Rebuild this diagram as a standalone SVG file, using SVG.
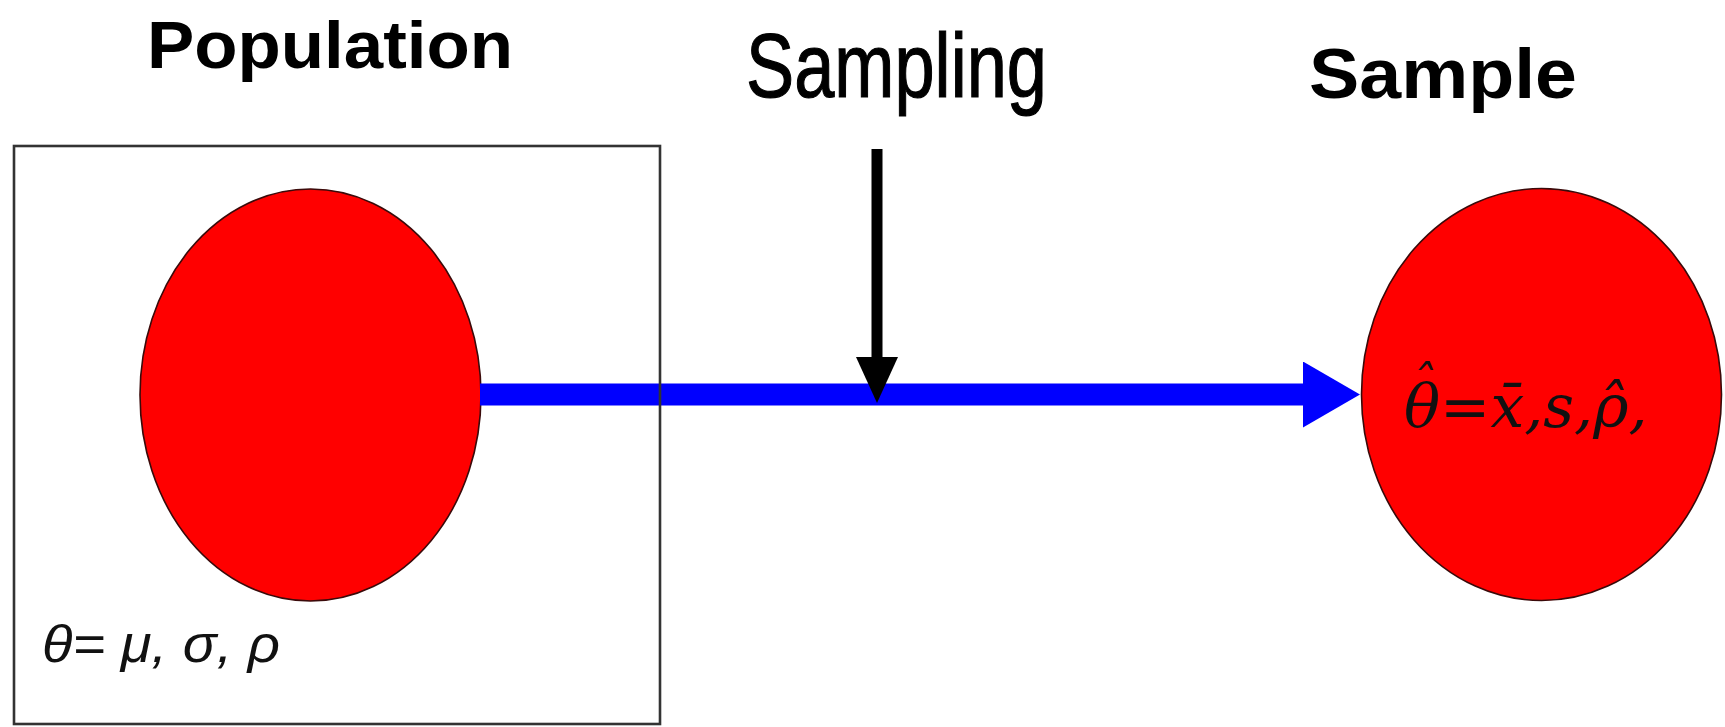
<svg xmlns="http://www.w3.org/2000/svg" width="1725" height="727" viewBox="0 0 1725 727">
  <style>
    .title { font-family: "Liberation Sans", Arial, sans-serif; font-weight: bold; fill: #000; }
    .hand { font-family: "Liberation Sans", Arial, sans-serif; fill: #000; stroke: #000; stroke-width: 1.2; }
    .blob { fill: #ff0000; stroke: #3a0a0a; stroke-width: 1.6; }
    .frame { fill: none; stroke: #333; stroke-width: 2.6; }
    .formula { fill: #111; }
    .est { font-family: "DejaVu Serif", "Liberation Serif", serif; font-style: italic; fill: #111; }
  </style>
  <defs>
    <marker id="blueHead" markerUnits="userSpaceOnUse" markerWidth="60" markerHeight="68" refX="1" refY="33" orient="auto">
      <path d="M0,0 L57,33 L0,66 z" fill="#0000ff"/>
    </marker>
    <marker id="blackHead" markerUnits="userSpaceOnUse" markerWidth="48" markerHeight="44" refX="1" refY="21" orient="auto">
      <path d="M0,0 L46,21 L0,42 z" fill="#000"/>
    </marker>
  </defs>

  <rect width="1725" height="727" fill="#fff"/>

  <!-- headings -->
  <g id="label-population">
    <text class="title" x="147" y="68" font-size="67" textLength="366" lengthAdjust="spacingAndGlyphs">Population</text>
  </g>
  <g id="label-sampling">
    <text class="hand" x="746" y="97" font-size="90" textLength="301" lengthAdjust="spacingAndGlyphs">Sampling</text>
  </g>
  <g id="label-sample">
    <text class="title" x="1309" y="98" font-size="70" textLength="268" lengthAdjust="spacingAndGlyphs">Sample</text>
  </g>

  <!-- population: ellipse with parameters -->
  <g id="population">
    <ellipse class="blob" cx="310.5" cy="395" rx="170.5" ry="206"/>
    <text class="formula" x="42" y="662" font-family="Liberation Sans, Arial, sans-serif" font-style="italic" font-size="52" textLength="238" lengthAdjust="spacingAndGlyphs">θ= μ, σ, ρ</text>
  </g>

  <!-- sample: ellipse with estimates (circumflex over theta set as its own tspan) -->
  <g id="sample">
    <ellipse class="blob" cx="1541.5" cy="394.5" rx="180" ry="206"/>
    <text class="est" x="1404" y="427" font-size="60">θ=x̄,s,ρ̂,<tspan x="1422" y="400" font-size="48" text-anchor="middle">ˆ</tspan></text>
  </g>

  <!-- connectors -->
  <g id="connectors">
    <line x1="480" y1="394.5" x2="1304" y2="394.5" stroke="#0000ff" stroke-width="22" marker-end="url(#blueHead)"/>
    <line x1="877" y1="149" x2="877" y2="358" stroke="#000" stroke-width="11" marker-end="url(#blackHead)"/>
  </g>

  <!-- population frame -->
  <g id="population-frame">
    <rect class="frame" x="14" y="146" width="646" height="578"/>
  </g>
</svg>
